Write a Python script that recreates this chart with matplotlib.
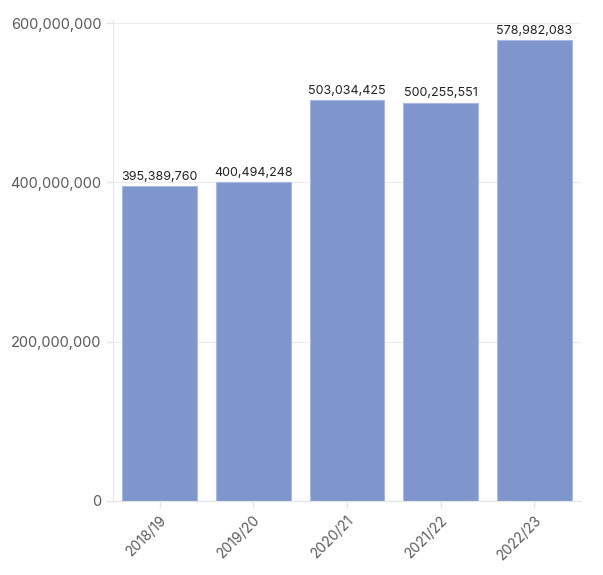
import matplotlib
matplotlib.use("Agg")
import matplotlib.pyplot as plt
from matplotlib.ticker import FuncFormatter

seasons = ["2018/19", "2019/20", "2020/21", "2021/22", "2022/23"]
values = [395389760, 400494248, 503034425, 500255551, 578982083]

plt.rcParams['font.family'] = ['Inter', 'DejaVu Sans']

fig = plt.figure(figsize=(6.03, 5.75), dpi=100)
ax = fig.add_axes([113 / 603, 1 - 501 / 575, 468 / 603, 481 / 575])

x = range(len(seasons))
ax.bar(x, values, width=0.8, color="#7f96cc", edgecolor="#a9b9e6", linewidth=0.8, zorder=2)
for xi, v in zip(x, values):
    ax.text(xi, v + 4e6, f"{v:,}", ha="center", va="bottom", fontsize=9, color="#222222")

ax.set_xlim(-0.5, len(seasons) - 0.5)
ax.set_ylim(0, 604e6)
ax.set_yticks([0, 200e6, 400e6, 600e6])
ax.yaxis.set_major_formatter(FuncFormatter(lambda v, p: f"{int(v):,}"))
ax.set_xticks(list(x))
ax.set_xticklabels(seasons, rotation=45, ha="right", rotation_mode="anchor")
ax.tick_params(axis="both", colors="#e6e6e6", labelcolor="#5a5a5a", labelsize=10.5, length=5, width=1)
ax.tick_params(axis="x", labelsize=10)
ax.grid(axis="y", color="#ececec", linewidth=0.8, zorder=0)
for s in ["top", "right"]:
    ax.spines[s].set_visible(False)
for s in ["left", "bottom"]:
    ax.spines[s].set_color("#e6e6e6")

fig.savefig("out.png", dpi=100)
